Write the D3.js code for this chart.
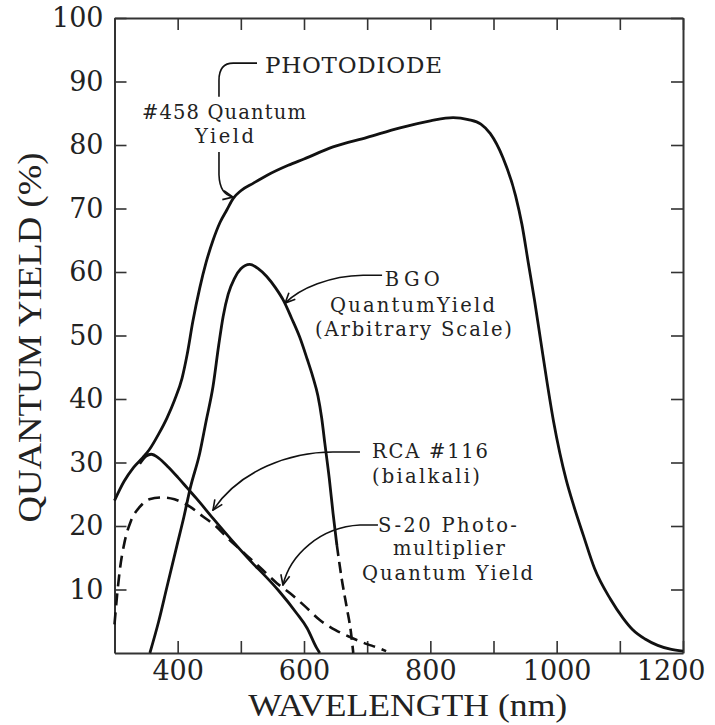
<!DOCTYPE html>
<html><head><meta charset="utf-8">
<script src="https://cdn.jsdelivr.net/npm/d3@7"></script>
<style>body{margin:0;background:#fff}svg{display:block}</style>
</head><body>
<svg id="chart" width="715" height="725"></svg>
<script>
// ---------------- DATA ----------------
const xTickValues = [300, 400, 500, 600, 700, 800, 900, 1000, 1100, 1200];
const xLabelValues = [400, 600, 800, 1000, 1200];
const yTickValues = [10, 20, 30, 40, 50, 60, 70, 80, 90, 100];
const xTitle = "WAVELENGTH (nm)";
const yTitle = "QUANTUM YIELD (%)";

// [wavelength nm, quantum yield %]
const photodiode458 = [
  [300,24],[315,27],[330,29.2],[345,30.8],[355,32],[370,34.5],[383,37],[395,39.8],
  [407,43.3],[415,47],[424,52.2],[435,57.5],[445,61.5],[456,65],[467,67.8],[478,69.8],
  [488,71.6],[500,72.8],[520,74],[541,75.2],[575,76.8],[600,77.8],[646,79.7],[700,81.2],
  [752,82.7],[800,83.8],[836,84.3],[860,84],[880,83.3],[895,81.8],[915,78],[935,72],
  [945,67.5],[955,61.5],[965,55.5],[975,49],[985,42.5],[995,36.5],[1005,31.5],[1015,27.3],
  [1027,23.2],[1042,18.6],[1060,13.3],[1085,8.5],[1105,5.5],[1120,3.7],[1140,2.2],[1160,1.2],
  [1180,0.6],[1200,0.3]
];
const bgoSolid = [
  [356,0],[370,5],[383,10.4],[399,17],[410,21.5],[420,26],[435,31.5],[445,36.5],
  [456,42],[465,48.5],[472,53],[480,56.5],[490,59],[500,60.5],[514,61.2],[528,60.5],
  [541,59.3],[555,57.5],[567,55.6],[580,52.8],[593,49.8],[605,46.3],[614,43.5],[622,40.5],
  [628,37],[633,33],[640,27.5],[646,22],[652,17]
];
const bgoDashed = [[652,17],[660,11.5],[668,7],[674,3.5],[678,0]];
const rca116 = [
  [340,29.8],[350,31],[358,31.3],[370,30.7],[385,29.3],[400,27.7],[415,26],[430,24.3],
  [456,21.2],[488,17.5],[520,14],[535,12.5],[560,9.8],[588,6.3],[605,3.9],[620,0.8],[625,0]
];
const s20 = [
  [300,4.5],[304,9],[309,13.5],[316,17.5],[326,20.8],[340,23],[355,24.2],[375,24.5],
  [395,24.2],[420,23],[440,21.5],[460,20],[480,18],[500,16.2],[530,13.5],[557,11],
  [578,9.4],[600,7.5],[625,5.2],[650,3.6],[673,2.5],[700,1.4],[715,0.9],[730,0.3]
];

const labelPhotodiode = ["PHOTODIODE", "#458 Quantum", "Yield"];
const labelBGO = ["BGO", "QuantumYield", "(Arbitrary Scale)"];
const labelRCA = ["RCA #116", "(bialkali)"];
const labelS20 = ["S-20 Photo-", "multiplier", "Quantum Yield"];

// ---------------- DRAWING ----------------
const svg = d3.select("#chart");
const W = 715, H = 725;
svg.append("rect").attr("width", W).attr("height", H).attr("fill", "#fff");

const x = d3.scaleLinear().domain([300, 1200]).range([114.5, 683]);
const y = d3.scaleLinear().domain([0, 100]).range([653, 18]);

const ink = "#111";
const axisColor = "#333";
const serif = "'DejaVu Serif', serif";

function styleAxis(g) {
  g.select(".domain").attr("stroke", axisColor).attr("stroke-width", 2);
  g.selectAll(".tick line").attr("stroke", axisColor).attr("stroke-width", 1.6);
  g.selectAll(".tick text").attr("fill", "#222").style("font-family", serif).style("font-size", "27px");
}

// bottom
const gB = svg.append("g").attr("transform", `translate(0,${y(0)})`)
  .call(d3.axisBottom(x).tickValues(xTickValues).tickSizeInner(-12).tickSizeOuter(0).tickPadding(8)
    .tickFormat(d => xLabelValues.includes(d) ? String(d) : ""));
styleAxis(gB);
gB.selectAll(".tick text").filter(d => d === 1200).attr("text-anchor", "end").attr("dx", 22);
// top
const gT = svg.append("g").attr("transform", `translate(0,${y(100)})`)
  .call(d3.axisTop(x).tickValues(xTickValues).tickSizeInner(-12).tickSizeOuter(0).tickFormat(""));
styleAxis(gT);
// left
const gL = svg.append("g").attr("transform", `translate(${x(300)},0)`)
  .call(d3.axisLeft(y).tickValues(yTickValues).tickSizeInner(-12).tickSizeOuter(0).tickPadding(11));
styleAxis(gL);
// right
const gR = svg.append("g").attr("transform", `translate(${x(1200)},0)`)
  .call(d3.axisRight(y).tickValues(yTickValues).tickSizeInner(-12).tickSizeOuter(0).tickFormat(""));
styleAxis(gR);

// axis titles
svg.append("text")
  .attr("x", (x(300) + x(1200)) / 2 + 9).attr("y", 716)
  .attr("text-anchor", "middle")
  .attr("textLength", 319).attr("lengthAdjust", "spacingAndGlyphs")
  .style("font-family", "'Liberation Serif', serif").style("font-size", "31px")
  .attr("fill", "#222").text(xTitle);
svg.append("text")
  .attr("transform", `translate(41,${(y(0) + y(100)) / 2 + 2}) rotate(-90)`)
  .attr("text-anchor", "middle")
  .attr("textLength", 370).attr("lengthAdjust", "spacingAndGlyphs")
  .style("font-family", "'Liberation Serif', serif").style("font-size", "34px")
  .attr("fill", "#222").text(yTitle);

// curves
const line = d3.line().x(d => x(d[0])).y(d => y(d[1])).curve(d3.curveMonotoneX);
const curves = svg.append("g").attr("fill", "none").attr("stroke", ink)
  .attr("stroke-linejoin", "round");
curves.append("path").datum(photodiode458).attr("d", line).attr("stroke-width", 2.8);
curves.append("path").datum(bgoSolid).attr("d", line).attr("stroke-width", 2.8);
curves.append("path").datum(bgoDashed).attr("d", line).attr("stroke-width", 2.6).attr("stroke-dasharray", "11,6");
curves.append("path").datum(rca116).attr("d", line).attr("stroke-width", 2.8);
curves.append("path").datum(s20).attr("d", line).attr("stroke-width", 2.6).attr("stroke-dasharray", "12,7");

// arrow marker
const defs = svg.append("defs");
defs.append("marker").attr("id", "arr")
  .attr("viewBox", "0 -6 12 12").attr("refX", 11).attr("refY", 0)
  .attr("markerUnits", "userSpaceOnUse").attr("markerWidth", 12).attr("markerHeight", 12)
  .attr("orient", "auto")
  .append("path").attr("d", "M1,-4.5 L11,0 L1,4.5")
  .attr("fill", "none").attr("stroke", ink).attr("stroke-width", 1.6);

// leader lines (positions in data units through the scales)
const P = (nm, v) => `${x(nm)},${y(v)}`;
const leaders = svg.append("g").attr("fill", "none").attr("stroke", ink).attr("stroke-width", 1.6);
leaders.append("path").attr("d",
  `M${P(525.6, 92.9)} L${P(488, 92.9)} Q${P(465.4, 92.9)} ${P(465.4, 90.2)} L${P(465.4, 87.6)}`);
leaders.append("path").attr("marker-end", "url(#arr)").attr("d",
  `M${P(465.4, 78.9)} L${P(465.4, 75.3)} Q${P(466.5, 72.2)} ${P(487.6, 71.8)}`);
leaders.append("path").attr("marker-end", "url(#arr)").attr("d",
  `M${P(723.6, 59.5)} L${P(693.5, 59.5)} C${P(641.3, 59.4)} ${P(593.8, 57.5)} ${P(570.1, 55.1)}`);
leaders.append("path").attr("marker-end", "url(#arr)").attr("d",
  `M${P(688.6, 31.65)} L${P(645.9, 31.65)} C${P(577.8, 31.65)} ${P(498.7, 28.8)} ${P(455.9, 22.5)}`);
leaders.append("path").attr("marker-end", "url(#arr)").attr("d",
  `M${P(717.1, 20.16)} L${P(688.6, 20.16)} C${P(625.3, 19.84)} ${P(577.8, 15.43)} ${P(566.7, 10.71)}`);

// annotation texts
function addLabel(txt, nm, v, anchor, width, size) {
  svg.append("text")
    .attr("x", x(nm)).attr("y", y(v))
    .attr("text-anchor", anchor)
    .attr("textLength", width).attr("lengthAdjust", "spacing")
    .style("font-family", serif).style("font-size", size + "px")
    .attr("fill", "#222").text(txt);
}
addLabel(labelPhotodiode[0], 538.2, 91.34, "start", 177, 23);
addLabel(labelPhotodiode[1], 473.3, 84.1, "middle", 164, 19.5);
addLabel(labelPhotodiode[2], 474.1, 80.3, "middle", 59, 19.5);
addLabel(labelBGO[0], 728, 57.8, "start", 55, 19.5);
addLabel(labelBGO[1], 771.7, 53.7, "middle", 165, 19.5);
addLabel(labelBGO[2], 773.3, 49.9, "middle", 197, 19.5);
addLabel(labelRCA[0], 707.6, 30.7, "start", 116, 19.5);
addLabel(labelRCA[1], 707.6, 26.8, "start", 108, 19.5);
addLabel(labelS20[0], 717.1, 19.06, "start", 139, 19.5);
addLabel(labelS20[1], 829.4, 15.43, "middle", 112, 19.5);
addLabel(labelS20[2], 827.1, 11.5, "middle", 171, 19.5);
</script>
</body></html>
